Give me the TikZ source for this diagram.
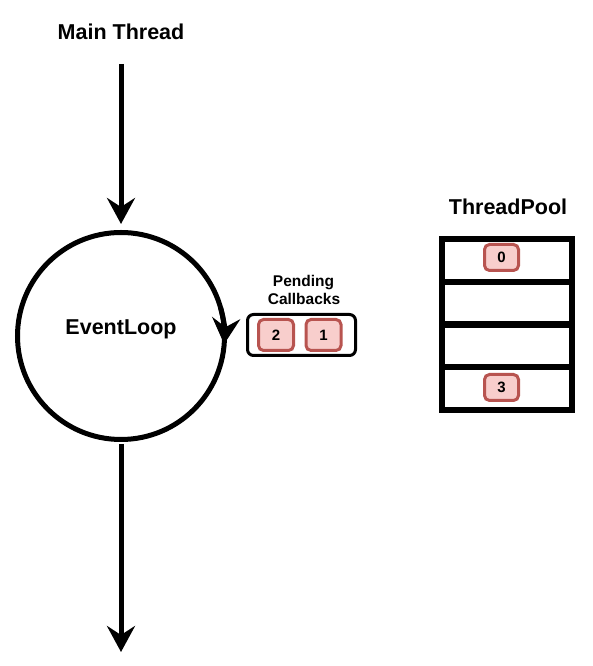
\documentclass[tikz,border=0pt]{standalone}
\usepackage{fontspec}
\setmainfont{Liberation Sans}
\usetikzlibrary{arrows.meta}
\definecolor{cbfill}{HTML}{F8CECC}
\definecolor{cbdraw}{HTML}{B85450}
\begin{document}
\begin{tikzpicture}[x=1pt,y=1pt,
  bigtext/.style={font=\fontsize{21.5}{26}\selectfont\bfseries, inner sep=0pt, anchor=base},
  smalltext/.style={font=\fontsize{15.5}{18}\selectfont\bfseries, inner sep=0pt, anchor=base},
  flow/.style={line width=5pt, -{Stealth[length=26pt,width=28pt,inset=9pt]}},
  cbbox/.style={draw=cbdraw, fill=cbfill, line width=3pt, rounded corners=5pt,
    minimum width=#1, minimum height=29pt, inner sep=0pt,
    font=\fontsize{15}{18}\selectfont\bfseries},
  cbbox/.default=35pt,
  poolrow/.style={draw, line width=6pt, minimum width=130.5pt, minimum height=42.75pt, inner sep=0pt}
]
\useasboundingbox (0,0) rectangle (592,666);

% Main thread
\node[bigtext] (title) at (121,626) {Main Thread};
\coordinate (start) at (121,602);

% Event loop
\node[draw, circle, line width=5pt, minimum size=207pt, inner sep=0pt] (loop) at (121,330) {};
\node[bigtext] (looptext) at (121,331) {EventLoop};
\coordinate (end) at (121,14);

\draw[flow, shorten >=6pt] (start) -- (loop.north);
\draw[flow, shorten <=2pt] (loop.south) -- (end);
\draw[flow] ([shift={(16:103.5)}]loop.center) arc[start angle=16, end angle=-4.5, radius=103.5];

% Pending callbacks
\node[smalltext] (pending) at (303.5,379) {Pending};
\node[smalltext] (callbacks) at (304,361) {Callbacks};
\node[draw, line width=3pt, rounded corners=6pt, minimum width=108pt, minimum height=41pt, inner sep=0pt] (queue) at (301.5,331) {};
\node[cbbox, minimum height=31pt] (cb2) at (276,331) {2};
\node[cbbox, minimum height=31pt] (cb1) at (323.5,331) {1};

% Thread pool
\node[bigtext] (pooltitle) at (508,451) {ThreadPool};
\node[poolrow] (row1) at (506.75,405.6) {};
\node[poolrow] (row2) at (506.75,362.9) {};
\node[poolrow] (row3) at (506.75,320.1) {};
\node[poolrow] (row4) at (506.75,277.4) {};
\node[cbbox=34pt, minimum height=26pt] (t0) at (501.5,408.5) {0};
\node[cbbox=34pt, minimum height=26pt] (t3) at (501.5,278.5) {3};
\end{tikzpicture}
\end{document}
